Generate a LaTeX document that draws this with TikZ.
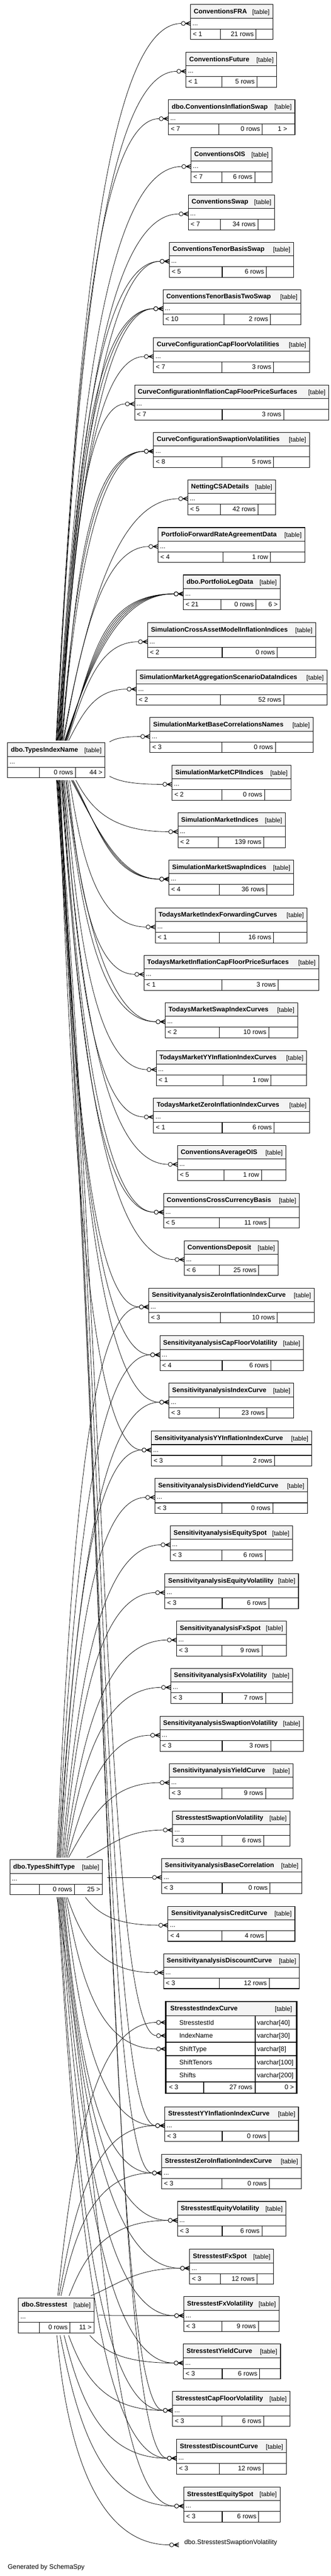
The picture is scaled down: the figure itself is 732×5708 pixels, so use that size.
\documentclass[tikz,border=0pt]{standalone}
\usepackage{fontspec}
\setmainfont{Liberation Sans}
\usetikzlibrary{calc}
\pgfdeclarelayer{bg}
\pgfdeclarelayer{edges}
\pgfsetlayers{bg,edges,main}
\definecolor{hdr}{RGB}{244,244,244}
\newcommand\ttlf{\fontsize{14.5}{17}\selectfont\bfseries}
\newcommand\regf{\fontsize{14.5}{17}\selectfont}
\newcommand\tagf{\fontsize{14}{17}\selectfont}
\tikzset{
  tl/.style={draw=black, line width=1.2pt},
  conn/.style={draw=black, line width=0.9pt},
  txt/.style={inner sep=0pt, font=\regf},
  tagt/.style={inner sep=0pt, font=\tagf},
  ttl/.style={inner sep=0pt, font=\ttlf},
  tbl/.style={inner sep=0pt, draw=none, fill=white},
  ea/.store in=\erA, eb/.store in=\erB, ec/.store in=\erC,
  ea=0.15, ec=0.5, eb=0.65,
  erel/.style={to path={let \p1=(\tikztostart), \p2=(\tikztotarget) in
     .. controls ({\x1+\erA*(\x2-\x1)},{\y1+\erC*(\y2-\y1)}) and ({\x2-\erB*(\x2-\x1)},\y2) .. (\tikztotarget)}},
  pics/crowodot/.style={code={
     \draw[line width=1.5pt] (-11,0) -- (0,4.5) (-11,0) -- (0,0) (-11,0) -- (0,-4.5);
     \draw[line width=1pt, fill=white] (-16,0) circle[radius=4.5pt];
  }}
}
% id, title, xl, xr, top, split1, split2, left text, middle text
\newcommand\tb[9]{%
  \node[tbl, minimum width={(#4-#3)*1pt}, minimum height=77.5pt, anchor=north west] (#1) at (#3,#5) {};
  \fill[hdr] (#3,#5) rectangle (#4,#5+30);
  \draw[tl] (#3,#5) rectangle (#4,#5+77.5);
  \draw[tl] (#3,#5+30) -- (#4,#5+30) (#3,#5+54) -- (#4,#5+54)
            (#6,#5+54) -- (#6,#5+77.5) (#7,#5+54) -- (#7,#5+77.5);
  \node[ttl, anchor=base west] at (#3+7,#5+20) {#2};
  \node[tagt, anchor=base east] at (#4-7,#5+21) {[table]};
  \node[txt, anchor=base west] at (#3+4,#5+46) {...};
  \node[txt, anchor=base west] at (#3+5,#5+70) {#8};
  \node[txt, anchor=base east] at (#7-5,#5+70) {#9};
  \coordinate (#1-m) at (#3,#5+42);
  \coordinate (#1-e) at (#3-20.5,#5+42);
}
\newcommand\rt[3]{\node[txt,anchor=base east] at (#1,#2) {#3};}
\newcommand\relT[4][]{\draw[conn,#1] ([xshift=#3pt,yshift=5pt]#2.north west) to[erel] (#4-e); \pic at (#4-m) {crowodot};}
\newcommand\relB[4][]{\draw[conn,#1] ([xshift=#3pt,yshift=-5pt]#2.south west) to[erel] (#4-e); \pic at (#4-m) {crowodot};}
\newcommand\relR[4][]{\draw[conn,#1] ([xshift=10pt,yshift=#3pt]#2.north east) to[erel] (#4-e); \pic at (#4-m) {crowodot};}
\begin{document}
\begin{tikzpicture}[x=1pt,y=-1pt]
\begin{pgfonlayer}{bg}
\fill[white] (0,0) rectangle (732,5708);
\end{pgfonlayer}
\useasboundingbox (0,0) rectangle (732,5708);

\tb{fra}{ConventionsFRA}{422}{604}{10}{488}{567}{< 1}{21 rows}
\tb{fut}{ConventionsFuture}{412}{613}{116}{491}{569}{< 1}{5 rows}
\tb{cis}{dbo.ConventionsInflationSwap}{373}{653}{221}{485}{581}{< 7}{0 rows}
\rt{636}{291}{1 >}
\tb{ois}{ConventionsOIS}{423}{602}{327}{491}{564}{< 7}{6 rows}
\tb{swp}{ConventionsSwap}{417}{608}{432}{488}{571}{< 7}{34 rows}
\tb{tbs}{ConventionsTenorBasisSwap}{375}{650}{537}{492}{590}{< 5}{6 rows}
\tb{tbts}{ConventionsTenorBasisTwoSwap}{361}{666}{642}{496}{599}{< 10}{2 rows}
\tb{ccfv}{CurveConfigurationCapFloorVolatilities}{340}{685}{748}{491}{606}{< 7}{3 rows}
\tb{cicf}{CurveConfigurationInflationCapFloorPriceSurfaces}{298}{728}{853}{492}{628}{< 7}{3 rows}
\tb{csv}{CurveConfigurationSwaptionVolatilities}{340}{685}{958}{491}{606}{< 8}{5 rows}
\tb{ncsa}{NettingCSADetails}{416}{610}{1063}{488}{571}{< 5}{42 rows}
\tb{pfra}{PortfolioForwardRateAgreementData}{350}{675}{1169}{494}{599}{< 4}{1 row}
\tb{pld}{dbo.PortfolioLegData}{406}{620}{1274}{489}{567}{< 21}{0 rows}
\rt{615}{1344}{6 >}
\tb{scam}{SimulationCrossAssetModelInflationIndices}{327}{699}{1380}{492}{614}{< 2}{0 rows}
\tb{smas}{SimulationMarketAggregationScenarioDataIndices}{302}{724}{1485}{488}{628}{< 2}{52 rows}
\tb{smbc}{SimulationMarketBaseCorrelationsNames}{332}{693}{1590}{491}{610}{< 3}{0 rows}
\tb{smcpi}{SimulationMarketCPIIndices}{381}{644}{1696}{491}{586}{< 2}{0 rows}
\tb{smi}{SimulationMarketIndices}{394}{632}{1801}{484}{584}{< 2}{139 rows}
\tb{smsi}{SimulationMarketSwapIndices}{374}{650}{1906}{486}{591}{< 4}{36 rows}
\tb{tmifc}{TodaysMarketIndexForwardingCurves}{344}{680}{2012}{486}{606}{< 1}{16 rows}
\tb{tmicf}{TodaysMarketInflationCapFloorPriceSurfaces}{319}{706}{2117}{491}{616}{< 1}{3 rows}
\tb{tmsic}{TodaysMarketSwapIndexCurves}{366}{659}{2222}{486}{595}{< 2}{10 rows}
\tb{tmyy}{TodaysMarketYYInflationIndexCurves}{346}{679}{2328}{494}{600}{< 1}{1 row}
\tb{tmzi}{TodaysMarketZeroInflationIndexCurves}{340}{686}{2433}{492}{607}{< 1}{6 rows}
\tb{caois}{ConventionsAverageOIS}{393}{633}{2538}{496}{579}{< 5}{1 row}
\tb{cccb}{ConventionsCrossCurrencyBasis}{362}{663}{2644}{486}{596}{< 5}{11 rows}
\tb{cdep}{ConventionsDeposit}{408}{616}{2749}{486}{573}{< 6}{25 rows}
\tb{szi}{SensitivityanalysisZeroInflationIndexCurve}{329}{696}{2854}{488}{614}{< 3}{10 rows}
\tb{scfv}{SensitivityanalysisCapFloorVolatility}{354}{672}{2960}{492}{600}{< 4}{6 rows}
\tb{sic}{SensitivityanalysisIndexCurve}{374}{650}{3065}{486}{591}{< 3}{23 rows}
\tb{syy}{SensitivityanalysisYYInflationIndexCurve}{335}{690}{3171}{491}{608}{< 3}{2 rows}
\tb{sdy}{SensitivityanalysisDividendYieldCurve}{343}{681}{3276}{491}{604}{< 3}{0 rows}
\tb{ses}{SensitivityanalysisEquitySpot}{377}{648}{3381}{491}{587}{< 3}{6 rows}
\tb{sev}{SensitivityanalysisEquityVolatility}{365}{661}{3487}{492}{595}{< 3}{6 rows}
\tb{sfs}{SensitivityanalysisFxSpot}{391}{634}{3592}{491}{580}{< 3}{9 rows}
\tb{sfv}{SensitivityanalysisFxVolatility}{378}{648}{3697}{492}{588}{< 3}{7 rows}
\tb{ssv}{SensitivityanalysisSwaptionVolatility}{354}{672}{3803}{492}{600}{< 3}{3 rows}
\tb{syc}{SensitivityanalysisYieldCurve}{375}{649}{3908}{491}{588}{< 3}{9 rows}
\tb{tsv}{StresstestSwaptionVolatility}{382}{642}{4013}{491}{584}{< 3}{6 rows}
\tb{sbc}{SensitivityanalysisBaseCorrelation}{358}{668}{4118}{492}{598}{< 3}{0 rows}
\tb{scc}{SensitivityanalysisCreditCurve}{372}{653}{4224}{491}{590}{< 4}{4 rows}
\tb{sdc}{SensitivityanalysisDiscountCurve}{362}{663}{4329}{486}{596}{< 3}{12 rows}

% expanded table StresstestIndexCurve
\node[tbl, minimum width=290pt, minimum height=203.3pt, anchor=north west] (tic) at (367,4435) {};
\fill[hdr] (367,4435) rectangle (657,4466.7);
\draw[line width=1.6pt] (367,4466.7) -- (657,4466.7) (367,4496) -- (657,4496)
  (367,4525.3) -- (657,4525.3) (367,4554.7) -- (657,4554.7) (367,4584) -- (657,4584)
  (367,4613.3) -- (657,4613.3) (565,4466.7) -- (565,4613.3)
  (451,4613.3) -- (451,4638.3) (565,4613.3) -- (565,4638.3);
\draw[line width=3pt] (367,4435) rectangle (657,4638.3);
\node[ttl,anchor=base west] at (377,4455) {StresstestIndexCurve};
\node[tagt,anchor=base east] at (647,4456) {[table]};
\node[txt,anchor=base west] at (397,4486.7) {StresstestId};
\node[txt,anchor=base west] at (569,4486.7) {varchar[40]};
\node[txt,anchor=base west] at (397,4516) {IndexName};
\node[txt,anchor=base west] at (569,4516) {varchar[30]};
\node[txt,anchor=base west] at (397,4545.3) {ShiftType};
\node[txt,anchor=base west] at (569,4545.3) {varchar[8]};
\node[txt,anchor=base west] at (397,4574.7) {ShiftTenors};
\node[txt,anchor=base west] at (569,4574.7) {varchar[100]};
\node[txt,anchor=base west] at (397,4604) {Shifts};
\node[txt,anchor=base west] at (569,4604) {varchar[200]};
\node[txt,anchor=base west] at (374,4630) {< 3};
\node[txt,anchor=base east] at (559,4630) {27 rows};
\node[txt,anchor=base east] at (651,4630) {0 >};
\coordinate (tic1-m) at (367,4481.3); \coordinate (tic1-e) at (346.5,4481.3);
\coordinate (tic2-m) at (367,4510.7); \coordinate (tic2-e) at (346.5,4510.7);
\coordinate (tic3-m) at (367,4540);   \coordinate (tic3-e) at (346.5,4540);

\tb{tyy}{StresstestYYInflationIndexCurve}{365}{661}{4668}{492}{595}{< 3}{0 rows}
\tb{tzi}{StresstestZeroInflationIndexCurve}{358}{667}{4773}{491}{596}{< 3}{0 rows}
\tb{tev}{StresstestEquityVolatility}{393}{633}{4878}{492}{580}{< 3}{6 rows}
\tb{tfs}{StresstestFxSpot}{420}{606}{4984}{488}{569}{< 3}{12 rows}
\tb{tfv}{StresstestFxVolatility}{407}{618}{5089}{491}{572}{< 3}{9 rows}
\tb{tyc}{StresstestYieldCurve}{406}{621}{5194}{492}{575}{< 3}{6 rows}
\tb{tcf}{StresstestCapFloorVolatility}{382}{642}{5299}{491}{584}{< 3}{6 rows}
\tb{tdc}{StresstestDiscountCurve}{391}{634}{5405}{486}{583}{< 3}{12 rows}
\tb{tes}{StresstestEquitySpot}{407}{620}{5511}{492}{573}{< 3}{6 rows}

\tb{tin}{dbo.TypesIndexName}{17}{232}{1646}{87}{167}{}{0 rows}
\rt{227}{1716}{44 >}
\tb{tst}{dbo.TypesShiftType}{22}{227}{4121}{87}{165}{}{0 rows}
\rt{222}{4191}{25 >}
\tb{st}{dbo.Stresstest}{41}{208}{5092}{87}{155}{}{0 rows}
\rt{203}{5162}{11 >}

\node[txt,anchor=base west] (lbl) at (408,5638) {dbo.StresstestSwaptionVolatility};
\coordinate (lbl-m) at (396,5639); \coordinate (lbl-e) at (375.5,5639);
\node[txt,anchor=base west] (gen) at (17,5692) {Generated by SchemaSpy};

\begin{pgfonlayer}{edges}
% dbo.TypesIndexName, upward
\relT{tin}{107}{fra}
\relT{tin}{108}{fut}
\relT{tin}{109}{cis}
\relT{tin}{110}{ois}
\relT{tin}{111}{swp}
\relT{tin}{112}{tbs}
\relT[eb=0.55]{tin}{113}{tbs}
\relT{tin}{114}{tbts}
\relT[eb=0.58]{tin}{115}{tbts}
\relT[eb=0.72]{tin}{116}{tbts}
\relT{tin}{117}{ccfv}
\relT{tin}{118}{cicf}
\relT{tin}{119}{csv}
\relT[eb=0.58]{tin}{120}{csv}
\relT[eb=0.72]{tin}{121}{csv}
\relT[ea=0.2,eb=0.55]{tin}{122}{ncsa}
\relT[ea=0.2,eb=0.55]{tin}{124}{pfra}
\relT[ea=0.25,ec=0.55,eb=0.5]{tin}{126}{pld}
\relT[ea=0.25,ec=0.55,eb=0.55]{tin}{127}{pld}
\relT[ea=0.25,ec=0.55,eb=0.6]{tin}{128}{pld}
\relT[ea=0.25,ec=0.55,eb=0.65]{tin}{129}{pld}
\relT[ea=0.25,ec=0.55,eb=0.7]{tin}{130}{pld}
\relT[ea=0.25,ec=0.55,eb=0.55]{tin}{132}{scam}
\relT[ea=0.25,ec=0.55,eb=0.55]{tin}{135}{smas}
\relR{tin}{2}{smbc}
\relR{tin}{-74}{smcpi}
% dbo.TypesIndexName, downward
\relB{tin}{151}{smi}
\relB[ea=0.3,eb=0.45]{tin}{141}{smsi}
\relB[ea=0.3,eb=0.5]{tin}{143}{smsi}
\relB[ea=0.3,eb=0.55]{tin}{145}{smsi}
\relB{tin}{137}{tmifc}
\relB{tin}{133}{tmicf}
\relB{tin}{129}{tmsic}
\relB[eb=0.55]{tin}{130}{tmsic}
\relB{tin}{126}{tmyy}
\relB{tin}{124}{tmzi}
\relB{tin}{122}{caois}
\relB{tin}{120}{cccb}
\relB[eb=0.58]{tin}{121}{cccb}
\relB{tin}{118}{cdep}
\relB{tin}{116}{szi}
\relB{tin}{115}{scfv}
\relB{tin}{114}{sic}
\relB{tin}{113}{syy}
\relB[ea=0.5,eb=0.5]{tin}{112}{tic2}
\relB[ea=0.5,eb=0.5]{tin}{111}{tyy}
\relB[ea=0.5,eb=0.5]{tin}{110}{tzi}
\relB[ea=0.5,eb=0.5]{tin}{109}{tcf}
\relB[ea=0.5,eb=0.5]{tin}{108}{tdc}
% dbo.TypesShiftType
\relT{tst}{104}{szi}
\relT{tst}{106}{scfv}
\relT{tst}{108}{sic}
\relT{tst}{110}{syy}
\relT{tst}{112}{sdy}
\relT{tst}{115}{ses}
\relT{tst}{118}{sev}
\relT{tst}{121}{sfs}
\relT{tst}{124}{sfv}
\relT[ea=0.2,eb=0.55]{tst}{127}{ssv}
\relT[ea=0.25,ec=0.55,eb=0.55]{tst}{130}{syc}
\relT[ea=0.3,ec=0.4,eb=0.5]{tst}{170}{tsv}
\relR{tst}{-39}{sbc}
\relB{tst}{167}{scc}
\relB{tst}{127}{sdc}
\relB{tst}{124}{tic3}
\relB{tst}{121}{tyy}
\relB{tst}{118}{tzi}
\relB{tst}{116}{tev}
\relB{tst}{114}{tfs}
\relB{tst}{112}{tfv}
\relB{tst}{110}{tyc}
\relB{tst}{108}{tcf}
\relB{tst}{106}{tdc}
\relB[ea=0.4,eb=0.55]{tst}{104}{tes}
% dbo.Stresstest
\relT{st}{87}{tic1}
\relT{st}{90}{tyy}
\relT{st}{94}{tzi}
\relT{st}{112}{tev}
\relT[ea=0.3,ec=0.4,eb=0.5]{st}{160}{tfs}
\relR{st}{-38}{tfv}
\relB{st}{158}{tyc}
\relB{st}{111}{tcf}
\relB{st}{101}{tdc}
\relB{st}{92}{tes}
\relB[ea=0.1,ec=0.6,eb=0.6]{st}{85}{lbl}
\end{pgfonlayer}
\end{tikzpicture}
\end{document}
